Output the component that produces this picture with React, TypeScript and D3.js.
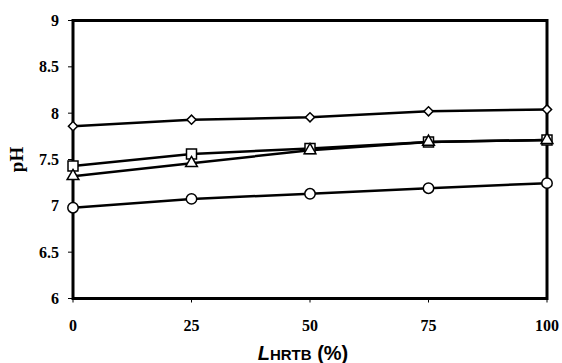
import React, { useEffect, useRef } from 'react'
import * as d3 from 'd3'

const loads = [0, 25, 50, 75, 100]
const diamondSeries = [7.86, 7.93, 7.955, 8.02, 8.04]
const squareSeries = [7.43, 7.56, 7.62, 7.69, 7.71]
const triangleSeries = [7.32, 7.46, 7.6, 7.69, 7.71]
const circleSeries = [6.98, 7.075, 7.13, 7.19, 7.245]
const yTicks = [6, 6.5, 7, 7.5, 8, 8.5, 9]

const W = 562
const H = 363

export default function App() {
    const svgRef = useRef<SVGSVGElement>(null)

    useEffect(() => {
        if (!svgRef.current) return
        const svg = d3.select(svgRef.current)
        svg.selectAll('*').remove()

        const left = 73, right = 547, top = 20.5, bottom = 298.5
        const x = d3.scaleLinear().domain([0, 100]).range([left, right])
        const y = d3.scaleLinear().domain([6, 9]).range([bottom, top])
        const serif = '"Liberation Serif", "Times New Roman", serif'
        const sans = '"Liberation Sans", Arial, sans-serif'

        // frame
        svg.append('rect')
            .attr('x', left).attr('y', top)
            .attr('width', right - left).attr('height', bottom - top)
            .attr('fill', 'none').attr('stroke', '#000').attr('stroke-width', 3)

        // y axis ticks
        const ya = svg.append('g')
        yTicks.forEach(t => {
            ya.append('line')
                .attr('x1', left - 5).attr('x2', left)
                .attr('y1', y(t)).attr('y2', y(t))
                .attr('stroke', '#000').attr('stroke-width', 1)
            ya.append('text')
                .attr('x', left - 14).attr('y', y(t) + 5.5)
                .attr('text-anchor', 'end')
                .style('font-family', serif).style('font-weight', 'bold').style('font-size', '16px')
                .text(d3.format('~g')(t))
        })

        // x axis ticks
        loads.forEach(t => {
            svg.append('line')
                .attr('x1', x(t)).attr('x2', x(t))
                .attr('y1', bottom).attr('y2', bottom + 4)
                .attr('stroke', '#000').attr('stroke-width', 1)
            svg.append('text')
                .attr('x', x(t)).attr('y', bottom + 32)
                .attr('text-anchor', 'middle')
                .style('font-family', serif).style('font-weight', 'bold').style('font-size', '16px')
                .text(t)
        })

        // axis titles
        svg.append('text')
            .attr('transform', `translate(23,${(top + bottom) / 2}) rotate(-90)`)
            .attr('text-anchor', 'middle')
            .style('font-family', serif).style('font-weight', 'bold').style('font-size', '19px')
            .text('pH')

        const xt = svg.append('text')
            .attr('x', 303).attr('y', 360)
            .attr('text-anchor', 'middle')
            .style('font-family', sans).style('font-weight', 'bold').style('font-size', '20px')
        xt.append('tspan').style('font-style', 'italic').text('L')
        xt.append('tspan').style('font-size', '15px').text('HRTB')
        xt.append('tspan').text(' (%)')

        const line = d3.line<number>().x((d, i) => x(loads[i])).y(d => y(d))

        const series = [
            { data: diamondSeries, sym: d3.symbolSquare, size: 42, rot: 45 },
            { data: squareSeries, sym: d3.symbolSquare, size: 100, rot: 0 },
            { data: triangleSeries, sym: d3.symbolTriangle, size: 60, rot: 0 },
            { data: circleSeries, sym: d3.symbolCircle, size: 85, rot: 0 },
        ]

        series.forEach(s => {
            svg.append('path')
                .datum(s.data)
                .attr('d', line)
                .attr('fill', 'none')
                .attr('stroke', '#000')
                .attr('stroke-width', 2.5)
        })

        series.forEach(s => {
            const sym = d3.symbol().type(s.sym).size(s.size)
            s.data.forEach((v, i) => {
                svg.append('path')
                    .attr('d', sym() as string)
                    .attr('transform', `translate(${x(loads[i])},${y(v)}) rotate(${s.rot})`)
                    .attr('fill', '#fff')
                    .attr('stroke', '#000')
                    .attr('stroke-width', 1.5)
            })
        })
    }, [])

    return (
        <div style={{ position: 'absolute', left: 0, top: 0, width: W, height: H, background: '#fff' }}>
            <svg ref={svgRef} width={W} height={H} />
        </div>
    )
}
